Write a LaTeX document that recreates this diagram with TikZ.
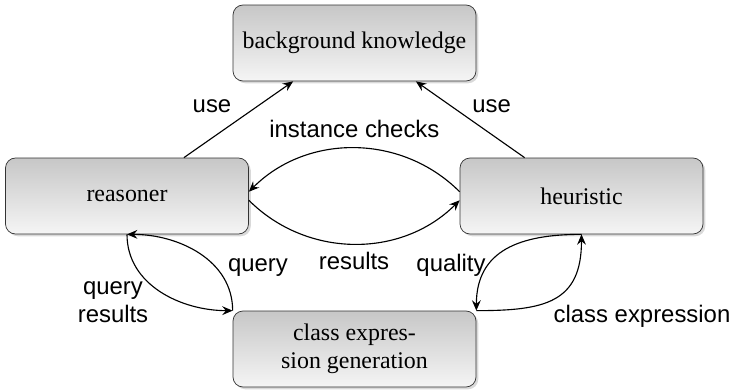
\documentclass[tikz,border=0pt]{standalone}
\usepackage{fontspec}
\setmainfont{Liberation Serif}
\setsansfont{Liberation Sans}
\usetikzlibrary{arrows.meta, shadows, calc, positioning}

\begin{document}
\begin{tikzpicture}

% TikZ styles
\tikzset{
  block/.style={rectangle, rounded corners=2.5mm, draw=black!80, line width=0.5pt, top color=black!22, bottom color=black!4, drop shadow={shadow xshift=1.6pt, shadow yshift=-1.6pt, opacity=0.3}, minimum width=6.075cm, minimum height=1.9cm, align=center, font=\fontsize{17}{20}\selectfont},
  arrow/.style={-{Stealth[length=2.6mm, width=2.2mm, inset=0.9mm]}, line width=0.8pt},
  edgetext/.style={font=\sffamily\fontsize{17}{20}\selectfont, anchor=base, inner sep=0pt, align=center}
}

\useasboundingbox (0,0) rectangle (18.3,9.775);

%==========================
% Boxes
%==========================
\node[block] (bk)        at (8.8625, 8.7)   {background knowledge};
\node[block] (reasoner)  at (3.175, 4.875)  {reasoner};
\node[block] (heuristic) at (14.5375, 4.875) {heuristic};
\node[block] (classgen)  at (8.8625, 1.05)  {class expres-\\sion generation};

%==========================
% Pfeile
%==========================
\draw[arrow] (reasoner.34) -- (bk.212);
\draw[arrow] (heuristic.146) -- (bk.328);

\draw[arrow] (heuristic.178) to[bend right=45] (reasoner.2);
\draw[arrow] (reasoner.358) to[bend right=45] (heuristic.182);

\draw[arrow] (classgen.north west) to[out=90, in=0] (reasoner.south);
\draw[arrow] (reasoner.south) to[out=-90, in=180] (classgen.north west);

\draw[arrow] (heuristic.south) to[out=180, in=90, looseness=1.2] (classgen.north east);
\draw[arrow] (classgen.north east) to[out=0, in=-90, looseness=1.35] (heuristic.south);

%==========================
% Beschriftungen
%==========================
\node[edgetext] (useleft)  at (5.3, 6.975)   {use};
\node[edgetext] (useright) at (12.29, 6.975) {use};
\node[edgetext] (checks)   at (8.86, 6.35)   {instance checks};
\node[edgetext] (results)  at (8.85, 3.05)   {results};
\node[edgetext] (query)    at (6.45, 3.0)    {query};
\node[edgetext, anchor=center] (qresults) at (2.825, 2.21) {query\\results};
\node[edgetext] (quality)  at (11.275, 3.0)  {quality};
\node[edgetext] (classexp) at (16.05, 1.725) {class expression};

\end{tikzpicture}
\end{document}
